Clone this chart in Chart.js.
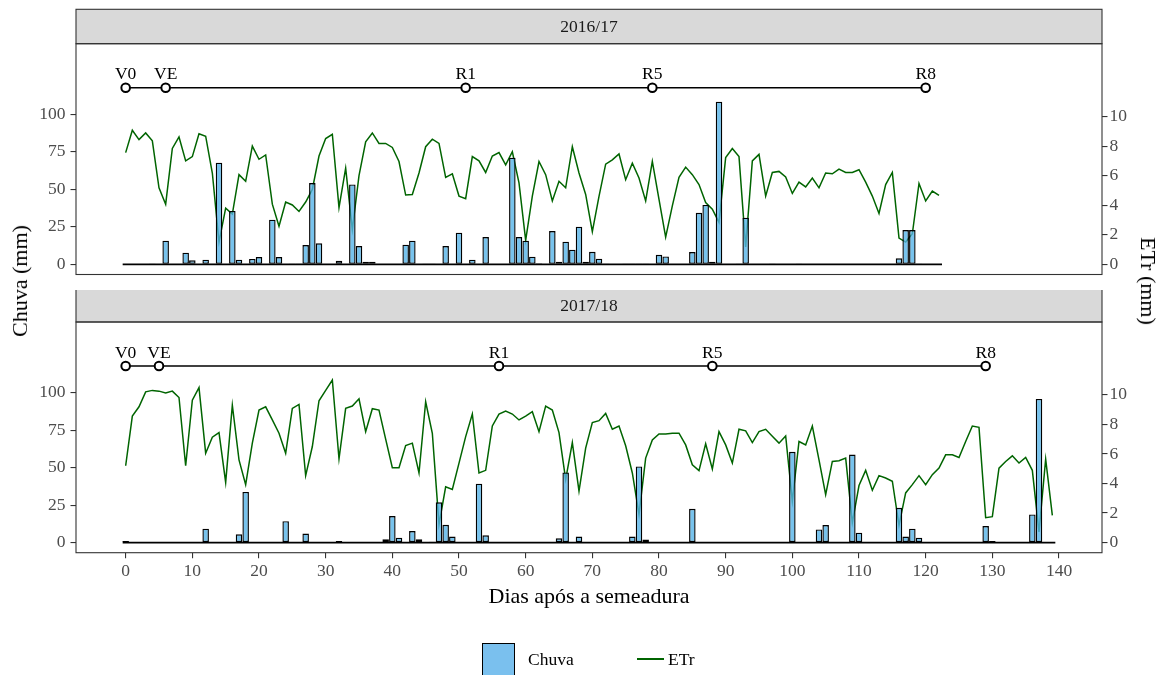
<!DOCTYPE html>
<html>
<head>
<meta charset="utf-8">
<script src="https://cdn.jsdelivr.net/npm/chart.js@4.4.1/dist/chart.umd.min.js"></script>
<style>
  body { margin: 0; background: #fff; }
  #wrap { position: relative; width: 1168px; height: 675px; overflow: hidden; font-family: 'Liberation Serif', 'Times New Roman', serif; }
  canvas { position: absolute; left: 0; }
  .t { position: absolute; white-space: nowrap; color: #000; line-height: 1; }
</style>
</head>
<body>
<div id="wrap">
  <canvas id="c1" width="1168" height="290" style="top:0;width:1168px;height:290px"></canvas>
  <canvas id="c2" width="1168" height="385" style="top:290px;width:1168px;height:385px"></canvas>

  <div class="t" style="left:20px;top:281px;font-size:22px;transform:translate(-50%,-50%) rotate(-90deg)">Chuva (mm)</div>
  <div class="t" style="left:1148px;top:281px;font-size:22px;transform:translate(-50%,-50%) rotate(90deg)">ETr (mm)</div>
  <div class="t" style="left:589px;top:596px;font-size:22px;transform:translate(-50%,-50%)">Dias após a semeadura</div>

  <div style="position:absolute;left:482px;top:643px;width:31px;height:31px;border:1.5px solid #000;background:rgb(122,192,238)"></div>
  <div class="t" style="left:528px;top:660px;font-size:17.5px;transform:translateY(-50%)">Chuva</div>
  <div style="position:absolute;left:637px;top:658px;width:27px;height:1.6px;background:#006400"></div>
  <div class="t" style="left:668px;top:660px;font-size:17.5px;transform:translateY(-50%)">ETr</div>
</div>

<script>
// 2016/17 - chuva diaria (mm) e ETr (mm), dia 0 a 122
const chuva1617 = [
  0, 0, 0, 0, 0.5, 0, 15.8, 0, 0, 7.8,
  2.7, 0, 3.1, 0.5, 67.8, 0, 35.6, 3.1, 0, 3.6,
  4.9, 0, 29.8, 4.9, 0, 0.5, 0.5, 12.9, 54.2, 14,
  0, 0, 2.4, 0, 53.3, 12.2, 1.8, 1.8, 0, 0,
  0, 0, 13.1, 15.8, 0, 0.3, 0.3, 0, 12.2, 0,
  21.1, 0, 3.1, 0, 18.2, 0, 0, 0, 71.1, 18.2,
  15.8, 5.1, 0.7, 0, 22.2, 1.8, 15.1, 9.8, 25.1, 1.8,
  8.4, 3.8, 0.5, 0, 0, 0.2, 0.2, 0.2, 0.2, 0,
  6.4, 5.3, 0, 0, 0, 8.2, 34.4, 39.6, 1.8, 108.4,
  0, 0, 0.2, 31.1, 0, 0, 0, 0.2, 0, 0.4,
  0.4, 0.3, 0, 0, 0, 0, 0, 0, 0, 0,
  0, 0, 0, 0, 0, 0, 4, 22.9, 22.9, 0.5,
  0, 0, 0
];
const etr1617 = [
  7.56, 9.07, 8.44, 8.89, 8.36, 5.18, 4.07, 7.84, 8.62, 7.0,
  7.29, 8.84, 8.67, 6.18, 1.51, 3.8, 3.4, 6.07, 5.62, 8.0,
  7.11, 7.4, 4.07, 2.58, 4.22, 4.02, 3.58, 4.22, 5.07, 7.33,
  8.51, 8.8, 3.84, 6.51, 2.36, 6.0, 8.29, 8.89, 8.18, 8.18,
  7.91, 6.96, 4.69, 4.73, 6.18, 7.96, 8.47, 8.18, 5.89, 6.13,
  4.62, 4.44, 7.29, 7.0, 6.22, 7.33, 7.56, 6.73, 7.62, 5.51,
  1.62, 4.62, 6.96, 6.07, 4.29, 5.62, 5.18, 7.96, 6.18, 4.73,
  2.22, 4.6, 6.78, 7.07, 7.47, 5.73, 6.84, 5.84, 4.29, 6.96,
  4.4, 1.84, 3.96, 5.89, 6.58, 6.07, 5.4, 4.18, 3.73, 2.84,
  7.22, 7.84, 7.29, 1.18, 7.0, 7.44, 4.62, 6.22, 6.29, 5.91,
  4.8, 5.56, 5.24, 5.84, 5.18, 6.18, 6.13, 6.44, 6.22, 6.22,
  6.4, 5.56, 4.62, 3.44, 5.4, 6.22, 1.78, 1.51, 2.07, 5.47,
  4.29, 4.96, 4.67
];

// 2017/18 - dia 0 a 139
const chuva1718 = [
  1.0, 0, 0, 0, 0, 0, 0, 0, 0, 0,
  0, 0, 9.3, 0, 0, 0, 0, 5.5, 33.8, 0.3,
  0, 0, 0, 0, 14.3, 0, 0, 6, 0.3, 0,
  0, 0, 1.1, 0, 0, 0, 0, 0, 0, 2.2,
  17.7, 3.3, 0, 7.7, 2.2, 0, 0.5, 26.9, 11.9, 4,
  0.3, 0, 0, 39.3, 4.9, 0, 0, 0, 0, 0,
  0, 0, 0, 0, 0, 2.9, 46.8, 0, 4, 0,
  0.2, 0, 0, 0, 0, 0, 4, 50.8, 2, 0,
  0, 0, 0, 0, 0, 22.5, 0, 0, 0, 0,
  0, 0, 0, 0, 0, 0.3, 0, 0.3, 0, 0,
  60.5, 0, 0, 0, 8.8, 11.7, 0, 0.3, 0, 58.7,
  6.6, 0, 0, 0, 0, 0, 23.2, 4, 9.3, 3.3,
  0.3, 0.3, 0.3, 0.3, 0, 0, 0, 0, 0, 11,
  1.1, 0, 0, 0, 0, 0, 18.8, 95.8, 0, 0
];
const etr1718 = [
  5.2, 8.56, 9.19, 10.2, 10.3, 10.25, 10.13, 10.25, 9.82, 5.2,
  9.64, 10.49, 6.05, 7.13, 7.44, 4.08, 9.3, 5.6, 3.92, 6.73,
  8.97, 9.19, 8.3, 7.4, 6.05, 9.08, 9.35, 4.53, 6.5, 9.6,
  10.3, 11.0, 5.67, 9.08, 9.24, 9.73, 7.51, 9.06, 8.97, 7.0,
  5.07, 5.07, 6.57, 6.73, 4.71, 9.53, 7.4, 1.23, 3.77, 3.59,
  5.38, 7.17, 8.7, 4.71, 4.89, 7.89, 8.7, 8.9, 8.7, 8.3,
  8.56, 8.86, 7.51, 9.24, 8.97, 7.44, 4.26, 6.77, 3.48, 6.39,
  8.12, 8.25, 8.74, 7.67, 7.89, 6.55, 4.71, 1.91, 5.72, 6.95,
  7.35, 7.35, 7.4, 7.4, 6.61, 5.27, 4.87, 6.68, 4.98, 7.51,
  6.61, 5.38, 7.67, 7.56, 6.77, 7.51, 7.67, 7.2, 6.73, 7.22,
  2.8, 6.84, 6.61, 7.89, 5.6, 3.25, 5.49, 5.54, 5.72, 1.35,
  3.86, 4.89, 3.54, 4.53, 4.37, 4.15, 1.17, 3.36, 3.92, 4.53,
  3.92, 4.6, 5.04, 5.94, 5.94, 5.76, 6.84, 7.89, 7.8, 1.68,
  1.75, 5.04, 5.49, 5.87, 5.38, 5.76, 4.89, 0.72, 5.65, 1.84
];

// estadios fenologicos
const estadios = ['V0', 'VE', 'R1', 'R5', 'R8'];
const estadiosDia1617 = [0, 6, 51, 79, 120];
const estadiosDia1718 = [0, 5, 56, 88, 129];
const estadioY = 117.7;

const xTicks = [0, 10, 20, 30, 40, 50, 60, 70, 80, 90, 100, 110, 120, 130, 140];
const chuvaTicks = [0, 25, 50, 75, 100];
const etrTicks = [0, 2, 4, 6, 8, 10];

const etrFator = 9.85;   // mm de chuva por mm de ETr no grafico
const yMin = -6.75, yMax = 147.05;
const meiaBarra = 0.45;

const serif = 'Liberation Serif';
const tickFont = { family: serif, size: 17.5 };

const painelPlugin = {
  id: 'painel',
  afterDatasetsDraw(chart) {
    const o = chart.options.plugins.painel;
    const a = chart.chartArea;
    const ctx = chart.ctx;
    ctx.save();
    // faixa do titulo
    ctx.fillStyle = '#D9D9D9';
    ctx.fillRect(a.left, a.top - o.faixa, a.right - a.left, o.faixa);
    ctx.strokeStyle = '#333333';
    ctx.lineWidth = 1.1;
    ctx.strokeRect(a.left, a.top - o.faixa, a.right - a.left, o.faixa);
    ctx.fillStyle = '#1A1A1A';
    ctx.font = '17.5px "' + serif + '"';
    ctx.textAlign = 'center';
    ctx.textBaseline = 'middle';
    ctx.fillText(o.titulo, (a.left + a.right) / 2, a.top - o.faixa / 2 + 1);
    // borda do painel
    ctx.strokeRect(a.left, a.top, a.right - a.left, a.bottom - a.top);
    // rotulos dos estadios
    const meta = chart.getDatasetMeta(0);
    ctx.fillStyle = '#000';
    meta.data.forEach((pt, i) => {
      ctx.fillText(estadios[i], pt.x, pt.y - 13);
    });
    ctx.restore();
  }
};

function painel(id, titulo, chuva, etr, estadiosDia, mostrarX, padTop, padBottom, faixa) {
  const dias = chuva.map((v, i) => i);
  const config = {
    data: {
      datasets: [
        {
          type: 'line',
          label: 'Estadios',
          data: estadiosDia.map(d => ({ x: d, y: estadioY })),
          borderColor: '#000',
          borderWidth: 1.5,
          pointRadius: 4.3,
          pointBackgroundColor: '#fff',
          pointBorderColor: '#000',
          pointBorderWidth: 2,
          yAxisID: 'y',
          order: 0
        },
        {
          type: 'line',
          label: 'base',
          data: [{ x: dias[0] - meiaBarra, y: 0 }, { x: dias[dias.length - 1] + meiaBarra, y: 0 }],
          borderColor: '#000',
          borderWidth: 1.8,
          pointRadius: 0,
          yAxisID: 'y',
          order: 0
        },
        {
          type: 'bar',
          label: 'Chuva',
          data: dias.map(d => ({ x: d, y: chuva[d] })),
          backgroundColor: 'rgba(86,180,233,0.8)',
          borderColor: '#000',
          borderWidth: 1.4,
          borderSkipped: false,
          barPercentage: 0.98,
          categoryPercentage: 1.0,
          yAxisID: 'y',
          order: 1
        },
        {
          type: 'line',
          label: 'ETr',
          data: dias.map(d => ({ x: d, y: etr[d] })),
          borderColor: '#006400',
          borderWidth: 1.5,
          pointRadius: 0,
          tension: 0,
          yAxisID: 'y2',
          order: 2
        }
      ]
    },
    options: {
      responsive: false,
      animation: false,
      devicePixelRatio: 1,
      layout: { padding: { top: padTop, bottom: padBottom, left: 0, right: 0 } },
      plugins: {
        legend: { display: false },
        tooltip: { enabled: false },
        painel: { titulo: titulo, faixa: faixa }
      },
      scales: {
        x: {
          type: 'linear',
          min: -7.45,
          max: 146.45,
          offset: false,
          display: mostrarX,
          border: { display: false },
          grid: { offset: false, drawOnChartArea: false, drawTicks: true, tickLength: 5.5, color: '#333333', lineWidth: 1.1 },
          ticks: { font: tickFont, color: '#4D4D4D', padding: 3, maxRotation: 0 },
          afterBuildTicks: s => { s.ticks = xTicks.map(v => ({ value: v })); },
          afterFit: s => { s.height = mostrarX ? 122.3 : 0; }
        },
        y: {
          position: 'left',
          min: yMin,
          max: yMax,
          border: { display: false },
          grid: { drawOnChartArea: false, drawTicks: true, tickLength: 5.5, color: '#333333', lineWidth: 1.1 },
          ticks: { font: tickFont, color: '#4D4D4D', padding: 5 },
          afterBuildTicks: s => { s.ticks = chuvaTicks.map(v => ({ value: v })); },
          afterFit: s => { s.width = 76; }
        },
        y2: {
          position: 'right',
          min: yMin / etrFator,
          max: yMax / etrFator,
          border: { display: false },
          grid: { drawOnChartArea: false, drawTicks: true, tickLength: 5.5, color: '#333333', lineWidth: 1.1 },
          ticks: { font: tickFont, color: '#4D4D4D', padding: 2 },
          afterBuildTicks: s => { s.ticks = etrTicks.map(v => ({ value: v })); },
          afterFit: s => { s.width = 66; }
        }
      }
    },
    plugins: [painelPlugin]
  };
  return new Chart(document.getElementById(id), config);
}

painel('c1', '2016/17', chuva1617, etr1617, estadiosDia1617, false, 43.7, 14, 34.4);
painel('c2', '2017/18', chuva1718, etr1718, estadiosDia1718, true, 32, 0, 33.7);
</script>
</body>
</html>
